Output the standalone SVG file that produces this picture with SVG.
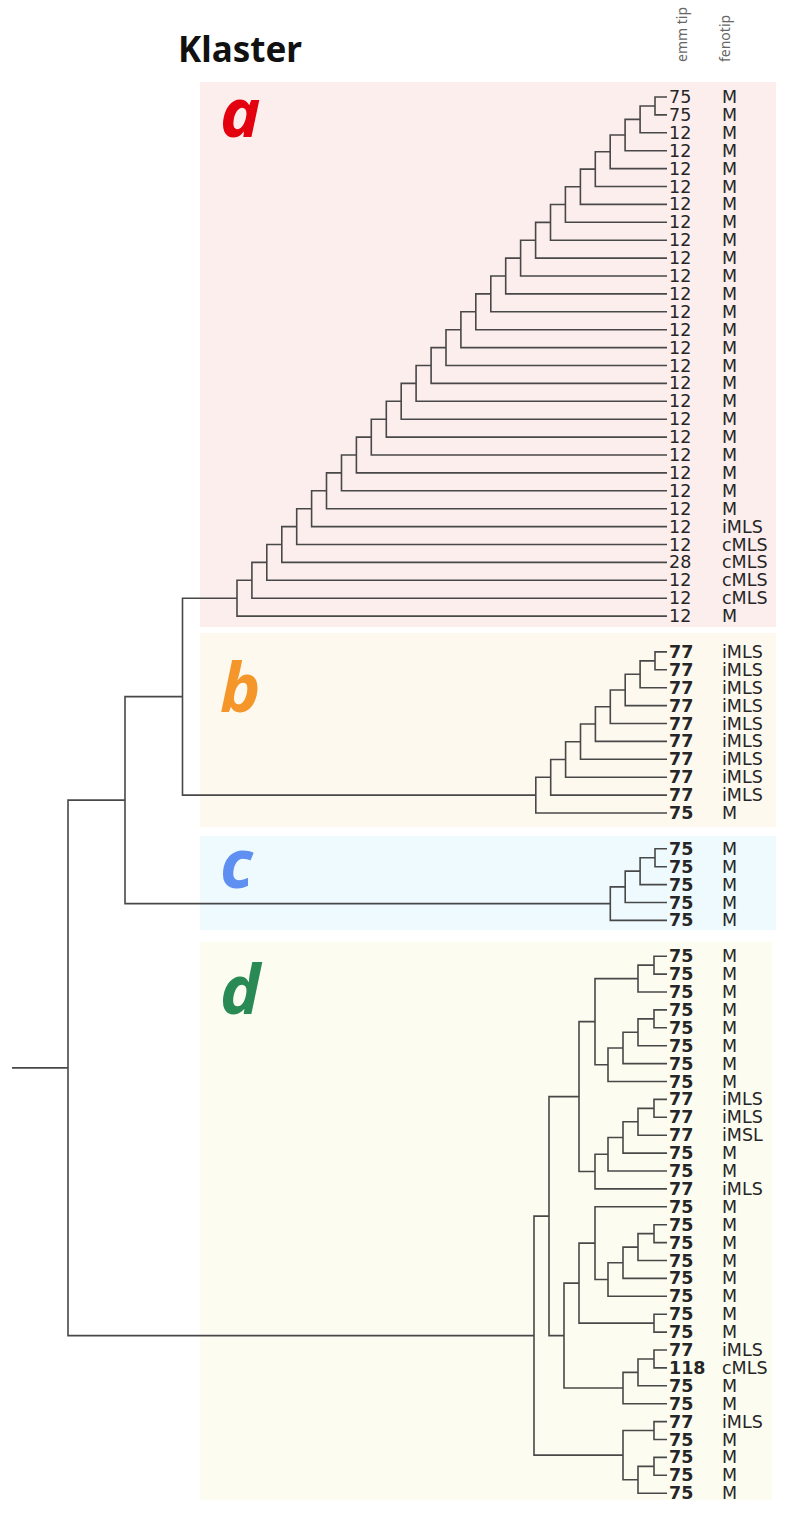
<svg xmlns="http://www.w3.org/2000/svg" width="794" height="1515" viewBox="0 0 794 1515">
<style>
text{font-family:"DejaVu Sans","Noto Sans",sans-serif;fill:#262626}
.e{font-size:17.5px}
.eb{font-size:17.5px;font-weight:bold}
.p{font-size:17.5px}
.hd{font-family:"Noto Sans",sans-serif;font-size:14px;fill:#666}
.kl{font-family:"Noto Sans",sans-serif;font-size:35px;font-weight:bold;fill:#111}
.cl{font-family:"Noto Sans",sans-serif;font-size:68px;font-weight:bold;font-style:italic}
.br path{fill:none;stroke:#484848;stroke-width:1.6}
</style>
<rect x="0" y="0" width="794" height="1515" fill="#ffffff"/>
<text class="kl" x="178" y="62">Klaster</text>
<text class="hd" transform="translate(687,62) rotate(-90)">emm tip</text>
<text class="hd" transform="translate(730,62) rotate(-90)">fenotip</text>

<g id="cluster-a">
<rect x="200" y="82" width="576" height="545" fill="#fdeeee"/>
<text class="cl" x="220" y="137" style="fill:#e3000f">a</text>
<g id="a0"><text class="e" x="669" y="103">75</text><text class="p" x="722" y="103">M</text></g>
<g id="a1"><text class="e" x="669" y="120.9">75</text><text class="p" x="722" y="120.9">M</text></g>
<g id="a2"><text class="e" x="669" y="138.8">12</text><text class="p" x="722" y="138.8">M</text></g>
<g id="a3"><text class="e" x="669" y="156.7">12</text><text class="p" x="722" y="156.7">M</text></g>
<g id="a4"><text class="e" x="669" y="174.6">12</text><text class="p" x="722" y="174.6">M</text></g>
<g id="a5"><text class="e" x="669" y="192.5">12</text><text class="p" x="722" y="192.5">M</text></g>
<g id="a6"><text class="e" x="669" y="210.4">12</text><text class="p" x="722" y="210.4">M</text></g>
<g id="a7"><text class="e" x="669" y="228.3">12</text><text class="p" x="722" y="228.3">M</text></g>
<g id="a8"><text class="e" x="669" y="246.2">12</text><text class="p" x="722" y="246.2">M</text></g>
<g id="a9"><text class="e" x="669" y="264.1">12</text><text class="p" x="722" y="264.1">M</text></g>
<g id="a10"><text class="e" x="669" y="282">12</text><text class="p" x="722" y="282">M</text></g>
<g id="a11"><text class="e" x="669" y="299.9">12</text><text class="p" x="722" y="299.9">M</text></g>
<g id="a12"><text class="e" x="669" y="317.8">12</text><text class="p" x="722" y="317.8">M</text></g>
<g id="a13"><text class="e" x="669" y="335.7">12</text><text class="p" x="722" y="335.7">M</text></g>
<g id="a14"><text class="e" x="669" y="353.6">12</text><text class="p" x="722" y="353.6">M</text></g>
<g id="a15"><text class="e" x="669" y="371.5">12</text><text class="p" x="722" y="371.5">M</text></g>
<g id="a16"><text class="e" x="669" y="389.4">12</text><text class="p" x="722" y="389.4">M</text></g>
<g id="a17"><text class="e" x="669" y="407.3">12</text><text class="p" x="722" y="407.3">M</text></g>
<g id="a18"><text class="e" x="669" y="425.2">12</text><text class="p" x="722" y="425.2">M</text></g>
<g id="a19"><text class="e" x="669" y="443.1">12</text><text class="p" x="722" y="443.1">M</text></g>
<g id="a20"><text class="e" x="669" y="461">12</text><text class="p" x="722" y="461">M</text></g>
<g id="a21"><text class="e" x="669" y="478.9">12</text><text class="p" x="722" y="478.9">M</text></g>
<g id="a22"><text class="e" x="669" y="496.8">12</text><text class="p" x="722" y="496.8">M</text></g>
<g id="a23"><text class="e" x="669" y="514.7">12</text><text class="p" x="722" y="514.7">M</text></g>
<g id="a24"><text class="e" x="669" y="532.6">12</text><text class="p" x="722" y="532.6">iMLS</text></g>
<g id="a25"><text class="e" x="669" y="550.5">12</text><text class="p" x="722" y="550.5">cMLS</text></g>
<g id="a26"><text class="e" x="669" y="568.4">28</text><text class="p" x="722" y="568.4">cMLS</text></g>
<g id="a27"><text class="e" x="669" y="586.3">12</text><text class="p" x="722" y="586.3">cMLS</text></g>
<g id="a28"><text class="e" x="669" y="604.2">12</text><text class="p" x="722" y="604.2">cMLS</text></g>
<g id="a29"><text class="e" x="669" y="622.1">12</text><text class="p" x="722" y="622.1">M</text></g>
</g>

<g id="cluster-b">
<rect x="200" y="633" width="576" height="194" fill="#fef9ef"/>
<text class="cl" x="220" y="712" style="fill:#f4962a">b</text>
<g id="b0"><text class="eb" x="669" y="657.9">77</text><text class="p" x="722" y="657.9">iMLS</text></g>
<g id="b1"><text class="eb" x="669" y="675.8">77</text><text class="p" x="722" y="675.8">iMLS</text></g>
<g id="b2"><text class="eb" x="669" y="693.7">77</text><text class="p" x="722" y="693.7">iMLS</text></g>
<g id="b3"><text class="eb" x="669" y="711.6">77</text><text class="p" x="722" y="711.6">iMLS</text></g>
<g id="b4"><text class="eb" x="669" y="729.5">77</text><text class="p" x="722" y="729.5">iMLS</text></g>
<g id="b5"><text class="eb" x="669" y="747.4">77</text><text class="p" x="722" y="747.4">iMLS</text></g>
<g id="b6"><text class="eb" x="669" y="765.3">77</text><text class="p" x="722" y="765.3">iMLS</text></g>
<g id="b7"><text class="eb" x="669" y="783.2">77</text><text class="p" x="722" y="783.2">iMLS</text></g>
<g id="b8"><text class="eb" x="669" y="801.1">77</text><text class="p" x="722" y="801.1">iMLS</text></g>
<g id="b9"><text class="eb" x="669" y="819">75</text><text class="p" x="722" y="819">M</text></g>
</g>

<g id="cluster-c">
<rect x="200" y="836" width="576" height="94" fill="#eefafd"/>
<text class="cl" x="220" y="888" style="fill:#5f8ff0">c</text>
<g id="c0"><text class="eb" x="669" y="854.8">75</text><text class="p" x="722" y="854.8">M</text></g>
<g id="c1"><text class="eb" x="669" y="872.7">75</text><text class="p" x="722" y="872.7">M</text></g>
<g id="c2"><text class="eb" x="669" y="890.6">75</text><text class="p" x="722" y="890.6">M</text></g>
<g id="c3"><text class="eb" x="669" y="908.5">75</text><text class="p" x="722" y="908.5">M</text></g>
<g id="c4"><text class="eb" x="669" y="926.4">75</text><text class="p" x="722" y="926.4">M</text></g>
</g>

<g id="cluster-d">
<rect x="200" y="942" width="572" height="558" fill="#fcfdf0"/>
<text class="cl" x="220" y="1014" style="fill:#2a8a55">d</text>
<g id="d0"><text class="eb" x="669" y="962.2">75</text><text class="p" x="722" y="962.2">M</text></g>
<g id="d1"><text class="eb" x="669" y="980.1">75</text><text class="p" x="722" y="980.1">M</text></g>
<g id="d2"><text class="eb" x="669" y="998">75</text><text class="p" x="722" y="998">M</text></g>
<g id="d3"><text class="eb" x="669" y="1015.9">75</text><text class="p" x="722" y="1015.9">M</text></g>
<g id="d4"><text class="eb" x="669" y="1033.8">75</text><text class="p" x="722" y="1033.8">M</text></g>
<g id="d5"><text class="eb" x="669" y="1051.7">75</text><text class="p" x="722" y="1051.7">M</text></g>
<g id="d6"><text class="eb" x="669" y="1069.6">75</text><text class="p" x="722" y="1069.6">M</text></g>
<g id="d7"><text class="eb" x="669" y="1087.5">75</text><text class="p" x="722" y="1087.5">M</text></g>
<g id="d8"><text class="eb" x="669" y="1105.4">77</text><text class="p" x="722" y="1105.4">iMLS</text></g>
<g id="d9"><text class="eb" x="669" y="1123.3">77</text><text class="p" x="722" y="1123.3">iMLS</text></g>
<g id="d10"><text class="eb" x="669" y="1141.2">77</text><text class="p" x="722" y="1141.2">iMSL</text></g>
<g id="d11"><text class="eb" x="669" y="1159.1">75</text><text class="p" x="722" y="1159.1">M</text></g>
<g id="d12"><text class="eb" x="669" y="1177">75</text><text class="p" x="722" y="1177">M</text></g>
<g id="d13"><text class="eb" x="669" y="1194.9">77</text><text class="p" x="722" y="1194.9">iMLS</text></g>
<g id="d14"><text class="eb" x="669" y="1212.8">75</text><text class="p" x="722" y="1212.8">M</text></g>
<g id="d15"><text class="eb" x="669" y="1230.7">75</text><text class="p" x="722" y="1230.7">M</text></g>
<g id="d16"><text class="eb" x="669" y="1248.6">75</text><text class="p" x="722" y="1248.6">M</text></g>
<g id="d17"><text class="eb" x="669" y="1266.5">75</text><text class="p" x="722" y="1266.5">M</text></g>
<g id="d18"><text class="eb" x="669" y="1284.4">75</text><text class="p" x="722" y="1284.4">M</text></g>
<g id="d19"><text class="eb" x="669" y="1302.3">75</text><text class="p" x="722" y="1302.3">M</text></g>
<g id="d20"><text class="eb" x="669" y="1320.2">75</text><text class="p" x="722" y="1320.2">M</text></g>
<g id="d21"><text class="eb" x="669" y="1338.1">75</text><text class="p" x="722" y="1338.1">M</text></g>
<g id="d22"><text class="eb" x="669" y="1356">77</text><text class="p" x="722" y="1356">iMLS</text></g>
<g id="d23"><text class="eb" x="669" y="1373.9">118</text><text class="p" x="722" y="1373.9">cMLS</text></g>
<g id="d24"><text class="eb" x="669" y="1391.8">75</text><text class="p" x="722" y="1391.8">M</text></g>
<g id="d25"><text class="eb" x="669" y="1409.7">75</text><text class="p" x="722" y="1409.7">M</text></g>
<g id="d26"><text class="eb" x="669" y="1427.6">77</text><text class="p" x="722" y="1427.6">iMLS</text></g>
<g id="d27"><text class="eb" x="669" y="1445.5">75</text><text class="p" x="722" y="1445.5">M</text></g>
<g id="d28"><text class="eb" x="669" y="1463.4">75</text><text class="p" x="722" y="1463.4">M</text></g>
<g id="d29"><text class="eb" x="669" y="1481.3">75</text><text class="p" x="722" y="1481.3">M</text></g>
<g id="d30"><text class="eb" x="669" y="1499.2">75</text><text class="p" x="722" y="1499.2">M</text></g>
</g>

<g id="connectors" class="br">
<path d="M667 97H655V114.9H667"/>
<path d="M655 105.95H640.1V132.8H667"/>
<path d="M640.1 119.37H625.1V150.7H667"/>
<path d="M625.1 135.04H610.2V168.6H667"/>
<path d="M610.2 151.82H595.3V186.5H667"/>
<path d="M595.3 169.16H580.4V204.4H667"/>
<path d="M580.4 186.78H565.4V222.3H667"/>
<path d="M565.4 204.54H550.5V240.2H667"/>
<path d="M550.5 222.37H535.6V258.1H667"/>
<path d="M535.6 240.24H520.6V276H667"/>
<path d="M520.6 258.12H505.7V293.9H667"/>
<path d="M505.7 276H490.8V311.8H667"/>
<path d="M490.8 293.9H475.8V329.7H667"/>
<path d="M475.8 311.8H460.9V347.6H667"/>
<path d="M460.9 329.7H446V365.5H667"/>
<path d="M446 347.6H431.1V383.4H667"/>
<path d="M431.1 365.5H416.1V401.3H667"/>
<path d="M416.1 383.4H401.2V419.2H667"/>
<path d="M401.2 401.3H386.3V437.1H667"/>
<path d="M386.3 419.2H371.3V455H667"/>
<path d="M371.3 437.1H356.4V472.9H667"/>
<path d="M356.4 455H341.5V490.8H667"/>
<path d="M341.5 472.9H326.5V508.7H667"/>
<path d="M326.5 490.8H311.6V526.6H667"/>
<path d="M311.6 508.7H296.7V544.5H667"/>
<path d="M296.7 526.6H281.8V562.4H667"/>
<path d="M281.8 544.5H266.8V580.3H667"/>
<path d="M266.8 562.4H251.9V598.2H667"/>
<path d="M251.9 580.3H237V616.1H667"/>

<path d="M667 651.9H655V669.8H667"/>
<path d="M655 660.85H640.1V687.7H667"/>
<path d="M640.1 674.27H625.2V705.6H667"/>
<path d="M625.2 689.94H610.3V723.5H667"/>
<path d="M610.3 706.72H595.4V741.4H667"/>
<path d="M595.4 724.06H580.5V759.3H667"/>
<path d="M580.5 741.68H565.6V777.2H667"/>
<path d="M565.6 759.44H550.7V795.1H667"/>
<path d="M550.7 777.27H535.8V813H667"/>

<path d="M667 848.8H655V866.7H667"/>
<path d="M655 857.75H640.1V884.6H667"/>
<path d="M640.1 871.17H625.2V902.5H667"/>
<path d="M625.2 886.84H610.3V920.4H667"/>

<path d="M237 598.2H182.5V795.14H535.8"/>
<path d="M182.5 696.67H125V903.62H610.3"/>
<path d="M125 800.15H68V1335.63H534"/>
<path d="M12 1067.9H68"/>

<path d="M667 956.2H654V974.1H667"/>
<path d="M654 965.15H638V992H667"/>
<path d="M667 1009.9H654V1027.8H667"/>
<path d="M654 1018.85H638V1045.7H667"/>
<path d="M638 1032.28H623V1063.6H667"/>
<path d="M623 1047.94H608V1081.5H667"/>
<path d="M638 978.6H595V1064.72H608"/>
<path d="M667 1099.4H654V1117.3H667"/>
<path d="M654 1108.35H638V1135.2H667"/>
<path d="M638 1121.78H623V1153.1H667"/>
<path d="M623 1137.44H608V1171H667"/>
<path d="M608 1154.22H595V1188.9H667"/>
<path d="M595 1021.66H579V1171.56H595"/>
<path d="M667 1224.7H654V1242.6H667"/>
<path d="M654 1233.65H638V1260.5H667"/>
<path d="M638 1247.08H623V1278.4H667"/>
<path d="M623 1262.74H608V1296.3H667"/>
<path d="M667 1206.8H595V1279.52H608"/>
<path d="M667 1314.2H654V1332.1H667"/>
<path d="M595 1243.16H579V1323.15H654"/>
<path d="M667 1350H654V1367.9H667"/>
<path d="M654 1358.95H638V1385.8H667"/>
<path d="M638 1372.38H623V1403.7H667"/>
<path d="M579 1283.16H564V1388.04H623"/>
<path d="M579 1096.61H549V1335.6H564"/>
<path d="M667 1421.6H654V1439.5H667"/>
<path d="M667 1457.4H654V1475.3H667"/>
<path d="M654 1466.35H638V1493.2H667"/>
<path d="M654 1430.55H623V1479.78H638"/>
<path d="M549 1216.1H534V1455.16H623"/>
</g>
</svg>
